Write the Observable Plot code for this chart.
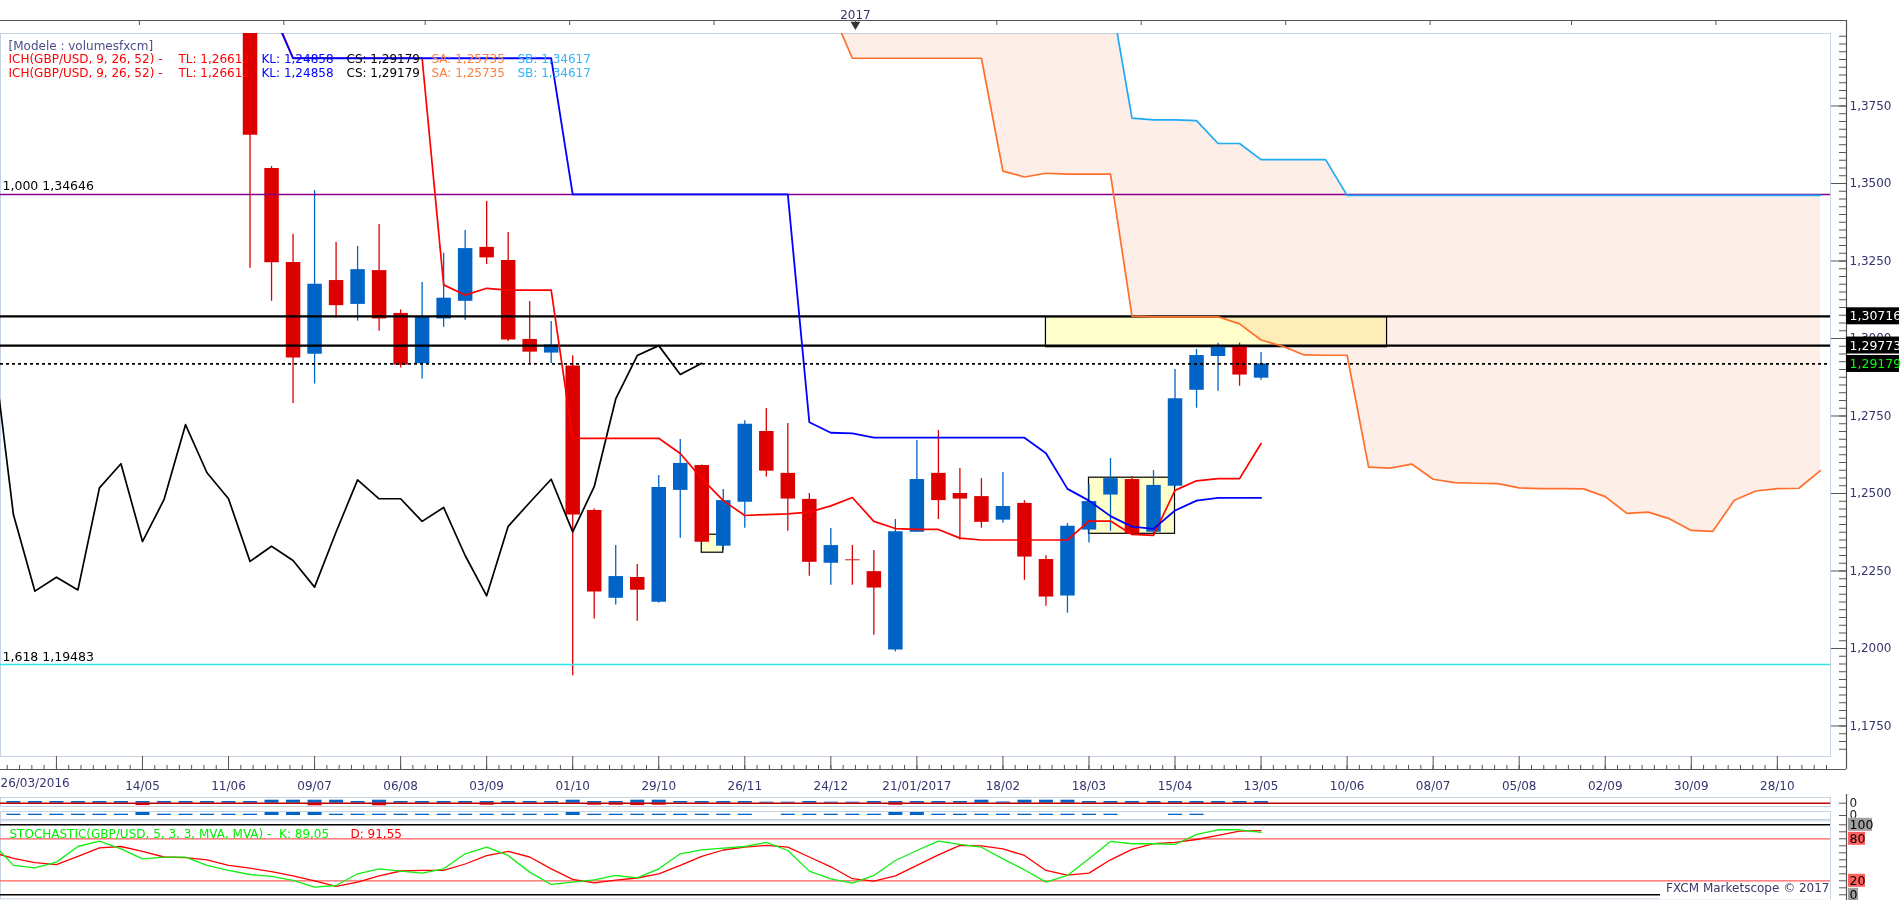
<!DOCTYPE html>
<html>
<head>
<meta charset="utf-8">
<script src="https://cdn.jsdelivr.net/npm/d3@7"></script>
<script src="https://cdn.jsdelivr.net/npm/@observablehq/plot@0.6"></script>
<style>
html, body { margin:0; padding:0; background:#fff; overflow:hidden; }
#wrap { position:relative; width:1903px; height:900px; overflow:hidden; background:#fff; }
#wrap > svg { position:absolute; left:0; }
</style>
</head>
<body>
<div id="wrap"></div>
<script>
// ---------------- DATA ----------------
const weeks = ["2016-03-26","2016-04-02","2016-04-09","2016-04-16","2016-04-23","2016-04-30","2016-05-07","2016-05-14","2016-05-21","2016-05-28",
"2016-06-04","2016-06-11","2016-06-18","2016-06-25","2016-07-02","2016-07-09","2016-07-16","2016-07-23","2016-07-30","2016-08-06",
"2016-08-13","2016-08-20","2016-08-27","2016-09-03","2016-09-10","2016-09-17","2016-09-24","2016-10-01","2016-10-08","2016-10-15",
"2016-10-22","2016-10-29","2016-11-05","2016-11-12","2016-11-19","2016-11-26","2016-12-03","2016-12-10","2016-12-17","2016-12-24",
"2016-12-31","2017-01-07","2017-01-14","2017-01-21","2017-01-28","2017-02-04","2017-02-11","2017-02-18","2017-02-25","2017-03-04",
"2017-03-11","2017-03-18","2017-03-25","2017-04-01","2017-04-08","2017-04-15","2017-04-22","2017-04-29","2017-05-06","2017-05-13",
"2017-05-20","2017-05-27","2017-06-03","2017-06-10","2017-06-17","2017-06-24","2017-07-01","2017-07-08","2017-07-15","2017-07-22",
"2017-07-29","2017-08-05","2017-08-12","2017-08-19","2017-08-26","2017-09-02","2017-09-09","2017-09-16","2017-09-23","2017-09-30",
"2017-10-07","2017-10-14","2017-10-21","2017-10-28","2017-11-04","2017-11-11"];

// weekly candles 18/06/2016 .. 13/05/2017
const open  = [1.4555,1.3548,1.3245,1.2949,1.3187,1.3110,1.3219,1.3081,1.2919,1.3063,1.3120,1.3294,1.3252,1.2997,1.2953,1.2911,1.2445,1.2162,1.2229,1.2149,1.2510,1.2590,1.2330,1.2472,1.2700,1.2565,1.2481,1.2275,1.2286,1.2248,1.1995,1.2375,1.2565,1.2500,1.2490,1.2414,1.2468,1.2287,1.2169,1.2382,1.2495,1.2545,1.2375,1.2523,1.2833,1.2942,1.2977,1.2872];
const high  = [1.5018,1.3555,1.3336,1.3477,1.3310,1.3297,1.3368,1.3092,1.3181,1.3275,1.3348,1.3442,1.3342,1.3119,1.3055,1.2944,1.2450,1.2332,1.2271,1.2558,1.2674,1.2592,1.2513,1.2735,1.2774,1.2726,1.2500,1.2387,1.2332,1.2316,1.2416,1.2671,1.2703,1.2581,1.2548,1.2568,1.2477,1.2299,1.2403,1.2529,1.2613,1.2555,1.2574,1.2900,1.2965,1.2985,1.2985,1.2955];
const low   = [1.3227,1.3120,1.2790,1.2853,1.3066,1.3056,1.3023,1.2905,1.2869,1.3036,1.3059,1.3239,1.2990,1.2919,1.2919,1.1912,1.2095,1.2140,1.2088,1.2146,1.2356,1.2343,1.2316,1.2388,1.2553,1.2378,1.2233,1.2204,1.2204,1.2043,1.1989,1.2375,1.2416,1.2349,1.2388,1.2404,1.2220,1.2136,1.2114,1.2340,1.2378,1.2365,1.2370,1.2520,1.2775,1.2830,1.2846,1.2865];
const close = [1.3656,1.3244,1.2937,1.3175,1.3106,1.3222,1.3063,1.2914,1.3071,1.3130,1.3290,1.3260,1.2995,1.2956,1.2979,1.2431,1.2182,1.2232,1.2188,1.2519,1.2597,1.2343,1.2477,1.2723,1.2572,1.2482,1.2278,1.2332,1.2283,1.2195,1.2377,1.2545,1.2477,1.2482,1.2407,1.2458,1.2295,1.2166,1.2394,1.2474,1.2548,1.2369,1.2526,1.2806,1.2945,1.2977,1.2882,1.29179];

// Ichimoku lines
const tenkan = [1.4120,1.4070,1.3904,1.3904,1.3904,1.3904,1.3904,1.3904,1.3904,1.3173,1.3140,1.3162,1.3156,1.3156,1.3156,1.2678,1.2678,1.2678,1.2678,1.2678,1.2629,1.2548,1.2477,1.2429,1.2432,1.2434,1.2440,1.2460,1.2487,1.2410,1.2387,1.2384,1.2384,1.2356,1.2350,1.2350,1.2350,1.2350,1.2350,1.2411,1.2411,1.2368,1.2365,1.2510,1.2541,1.2548,1.2548,1.26612];
const kijun  = [1.4250,1.4061,1.3904,1.3904,1.3904,1.3904,1.3904,1.3904,1.3904,1.3904,1.3904,1.3904,1.3904,1.3904,1.3904,1.3465,1.3465,1.3465,1.3465,1.3465,1.3465,1.3465,1.3465,1.3465,1.3465,1.3465,1.2730,1.2696,1.2694,1.2680,1.2680,1.2680,1.2680,1.2680,1.2680,1.2680,1.2680,1.2630,1.2515,1.2477,1.2427,1.2393,1.2386,1.2445,1.2477,1.2486,1.2486,1.24858];
const chikou = [1.3000,1.2432,1.2185,1.2230,1.2189,1.2518,1.2596,1.2345,1.2480,1.2722,1.2567,1.2483,1.2281,1.2330,1.2284,1.2198,1.2376,1.2544,1.2483,1.2483,1.2410,1.2455,1.2300,1.2170,1.2394,1.2471,1.2546,1.2376,1.2522,1.2805,1.2945,1.2977,1.2884,1.2920];
const senkouA = [1.4065,1.3904,1.3904,1.3904,1.3904,1.3904,1.3904,1.3904,1.3540,1.3521,1.3533,1.3530,1.3530,1.3530,1.3072,1.3070,1.3070,1.3070,1.3070,1.3047,1.2995,1.2975,1.2947,1.2946,1.2946,1.2585,1.2582,1.2595,1.2546,1.2535,1.2533,1.2532,1.2518,1.2516,1.2516,1.2515,1.2490,1.2436,1.2440,1.2418,1.2381,1.2378,1.2478,1.2508,1.2516,1.2517,1.25735];
const senkouB = [1.4300,1.4300,1.4300,1.4300,1.4300,1.4300,1.4300,1.4300,1.4300,1.4300,1.4300,1.4300,1.4300,1.4110,1.3711,1.3705,1.3705,1.3703,1.3629,1.3629,1.3577,1.3577,1.3577,1.3577,1.34617,1.34617,1.34617,1.34617,1.34617,1.34617,1.34617,1.34617,1.34617,1.34617,1.34617,1.34617,1.34617,1.34617,1.34617,1.34617,1.34617,1.34617,1.34617,1.34617,1.34617,1.34617,1.34617];

// Stochastic
const stochK = [75,42,38.6,46.7,69,76.7,65.7,51.4,53.8,53.8,41.9,34.8,29,26.2,20.5,11,13.3,30,37.1,33.8,31,37.1,58.6,68,56.2,32.4,14.8,18.1,21.4,27.6,24.3,37.1,58.6,64.3,66.7,69,74.8,63.3,33.8,22.9,16.7,27.6,49,63.3,76.7,71.9,68,51.4,35.7,18.1,27.6,51.4,76.2,72.9,72.9,71.9,86.2,92.9,92.9,89.05];
const stochD = [61,52,46,43,55,67,69,62,54,53,50,42,38,33,27,20,12,18,27,34,35,35,44,56,62,54,37,22,17,21,24,30,42,55,64,68,70.5,68,54,40,23,19.5,27,42,57,70.5,70,65.7,56.2,34.8,28,31,50,65,73,75,79,85,91,91.55];

// thin volume strips
const vol1Up = [1.7,1.7,1.7,1.7,1.7,1.7,1.7,1.7,1.7,1.7,1.7,1.7,3,3,3,3,1.7,3,1.7,1.7,1.7,1.7,1.7,1.7,1.7,1.7,3,1.7,1.7,3,3,1.7,1.7,1.7,1.7,1,1,1.7,1,1,1.7,1.7,1.7,1.7,1.7,3,1.2,3,3,3,1.7,1.7,1.7,1.7,1.7,1.7,1.7,1.7,1.7];
const vol1Dn = [0,0,0,0,0,0,2.4,0,0,0,0,0,0,0,2.6,0,0,2.6,0,0,0,0,2.0,0,0,0,0,2.0,2.0,2.4,2.0,0,0,0,0,0,0,0,0,0,0,2.0,0,0,0,0,0,0,0,0,0,0,0,0,0,0,0,0,0];
const vol2   = [1.3,1.3,1.3,1.3,1.3,1.3,3,1.3,1.3,1.3,1.3,1.3,3,3,3,1.3,1.3,1.3,1.3,1.3,1.3,1.3,1.3,1.3,1.3,1.3,3,1.3,1.3,1.3,1.3,1.3,1.3,1.3,1.3,0,1.3,1.3,1.3,1.3,1.3,3,3,1.3,1.3,1.3,1.3,1.3,1.3,1.3,1.3,1.3,0,0,1.3,1.3,0,0,0];

// levels and tags
const fiboValues = [1.34646, 1.19483];
const fiboLabels = ["1,000 1,34646", "1,618 1,19483"];
const fiboColors = ["#8b008b", "#2ee6e6"];
const blackLevels = [1.30716, 1.29773];
const dottedLevel = [1.29179];
const tagValues = [1.30716, 1.29773, 1.29179];
const tagLabels = ["1,30716", "1,29773", "1,29179"];
const tagColors = ["#ffffff", "#ffffff", "#00ff00"];

// highlight boxes
const boxX1 = ["2016-11-12", "2017-03-18", "2017-03-04"];
const boxX2 = ["2016-11-19", "2017-04-15", "2017-06-23"];
const boxLow = [1.2309, 1.2370, 1.2972];
const boxHigh = [1.2367, 1.2551, 1.3069];

// axis ticks
const xTickDates = ["2016-04-16","2016-05-14","2016-06-11","2016-07-09","2016-08-06","2016-09-03","2016-10-01","2016-10-29","2016-11-26","2016-12-24","2017-01-21","2017-02-18","2017-03-18","2017-04-15","2017-05-13","2017-06-10","2017-07-08","2017-08-05","2017-09-02","2017-09-30","2017-10-28"];
const xTickLabels = ["","14/05","11/06","09/07","06/08","03/09","01/10","29/10","26/11","24/12","21/01/2017","18/02","18/03","15/04","13/05","10/06","08/07","05/08","02/09","30/09","28/10"];
const firstLabel = "26/03/2016";
const topTickDates = ["2016-05-13","2016-06-29","2016-08-14","2016-09-30","2016-11-16","2017-01-01","2017-02-16","2017-04-04","2017-05-21","2017-07-07","2017-08-22","2017-10-08"];
const yearMark = {date: "2017-01-01", label: "2017"};
const yTicks = [1.175,1.2,1.225,1.25,1.275,1.3,1.325,1.35,1.375];

// ---------------- BUILD ----------------
const W = 1903, MR = 73;
const X0 = new Date("2016-03-28T19:12:00Z"), X1 = new Date("2017-11-14T07:12:00Z");
const Y0 = 1.165161, Y1 = 1.398387;
const day = s => new Date(s + "T00:00:00Z");
const BLUE = "#0063c6", RED = "#dc0000", FRAME = "#c6d3e1", AXIS = "#555555", LAB = "#35356e";
const FONT = "'DejaVu Sans', Verdana, sans-serif";

const candles = weeks.slice(12, 60).map((w, i) => ({date: day(w), open: open[i], high: high[i], low: low[i], close: close[i]}));
const candleColor = d => d.close >= d.open ? BLUE : RED;
const tkData = weeks.slice(12, 60).map((w, i) => ({date: day(w), t: tenkan[i], k: kijun[i]}));
const chData = weeks.slice(0, 34).map((w, i) => ({date: day(w), v: chikou[i]}));
const cloud = weeks.slice(39, 86).map((w, i) => ({date: day(w), sa: senkouA[i], sb: senkouB[i]}));
const stoch = weeks.slice(0, 60).map((w, i) => ({date: day(w), k: stochK[i], d: stochD[i]}));
const v1 = weeks.slice(1, 60).map((w, i) => ({date: day(w), up: vol1Up[i], dn: vol1Dn[i]}));
const v2 = weeks.slice(1, 60).map((w, i) => ({date: day(w), h: vol2[i]})).filter(d => d.h > 0);
const boxes = boxX1.map((x, i) => ({x1: day(x), x2: day(boxX2[i]), y1: boxLow[i], y2: boxHigh[i]}));
const fibo = fiboValues.map((p, i) => ({p, label: fiboLabels[i], color: fiboColors[i]}));
const tags = tagValues.map((p, i) => ({p, label: tagLabels[i], color: tagColors[i]}));
const xLabelMap = new Map(xTickDates.map((d, i) => [+day(d), xTickLabels[i]]));
const minorX = d3.range(-10, 160).map(i => new Date(+day("2016-03-19") + i * 4 * 864e5)).filter(d => d >= X0 && d <= X1);
const minorY = d3.range(467, 560).map(i => +(i * 0.0025).toFixed(4));
const fmtP = d => d.toFixed(4).replace(".", ",");

const style = {background: "transparent", overflow: "visible", fontFamily: FONT, fontSize: "12px", color: "#000"};
const xScale = {type: "utc", domain: [X0, X1], label: null};

const txt = (s, color, dx, dy) => Plot.text([s], {frameAnchor: "top-left", text: d => d, dx, dy, fill: color, textAnchor: "start", fontSize: 12, fontFamily: FONT});

const main = Plot.plot({
  width: W, height: 800, marginTop: 33, marginBottom: 44, marginLeft: 0, marginRight: MR,
  style,
  x: xScale,
  y: {domain: [Y0, Y1], label: null},
  marks: [
    Plot.areaY(cloud, {x: "date", y1: "sa", y2: "sb", fill: "#fdeee8", clip: true}),
    Plot.frame({stroke: FRAME}),
    Plot.rect(boxes, {x1: "x1", x2: "x2", y1: "y1", y2: "y2", fill: "#ffffcc", stroke: "#000", strokeWidth: 1.2, mixBlendMode: "multiply"}),
    Plot.ruleX(candles, {x: "date", y1: "low", y2: "high", stroke: candleColor, strokeWidth: 1.3, clip: true}),
    Plot.ruleX(candles, {x: "date", y1: "open", y2: "close", stroke: candleColor, strokeWidth: 14.5, clip: true}),
    Plot.ruleY(fibo, {y: "p", stroke: "color", strokeWidth: 1.6}),
    Plot.ruleY(blackLevels, {stroke: "#000", strokeWidth: 2.2}),
    Plot.ruleY(dottedLevel, {stroke: "#000", strokeWidth: 1.8, strokeDasharray: "3,3"}),
    Plot.line(chData, {x: "date", y: "v", stroke: "#000", strokeWidth: 1.7, clip: true}),
    Plot.line(cloud, {x: "date", y: "sa", stroke: "#ff6f2c", strokeWidth: 1.7, clip: true}),
    Plot.line(cloud, {x: "date", y: "sb", stroke: "#1eaaf5", strokeWidth: 1.7, clip: true}),
    Plot.line(tkData, {x: "date", y: "t", stroke: "#ff0000", strokeWidth: 1.7, clip: true}),
    Plot.line(tkData, {x: "date", y: "k", stroke: "#0000ff", strokeWidth: 1.8, clip: true}),
    Plot.text(fibo, {y: "p", text: "label", frameAnchor: "left", dx: 2, dy: -8, textAnchor: "start", fill: "#000", fontSize: 12.5}),
    txt("[Modele : volumesfxcm]", "#4d4d8a", 8, 8),
    ...[21, 35].flatMap(dy => [
      txt("ICH(GBP/USD, 9, 26, 52) -", "#ff0000", 8, dy),
      txt("TL: 1,26612", "#ff0000", 178, dy),
      txt("KL: 1,24858", "#0000ff", 261, dy),
      txt("CS: 1,29179", "#000000", 346, dy),
      txt("SA: 1,25735", "#ff7f3f", 431, dy),
      txt("SB: 1,34617", "#33b5ff", 517, dy)
    ]),
    // top axis
    Plot.ruleY([Y1], {dy: -13, insetRight: -16, stroke: AXIS, strokeWidth: 1.2}),
    Plot.axisX({anchor: "top", ticks: topTickDates.map(day), tickSize: 4, dy: -9, tickFormat: () => "", stroke: AXIS, label: null}),
    Plot.dot([yearMark], {x: d => day(d.date), frameAnchor: "top", dy: -9, symbol: "triangle", r: 3.6, fill: "#333", rotate: 180}),
    Plot.text([yearMark], {x: d => day(d.date), text: "label", frameAnchor: "top", dy: -23, fill: LAB, fontSize: 12}),
    // bottom axis
    Plot.ruleY([Y0], {dy: 13, insetRight: -16, stroke: AXIS, strokeWidth: 1.2}),
    Plot.axisX({anchor: "bottom", ticks: minorX, tickSize: 4, dy: 9, tickFormat: () => "", stroke: AXIS, label: null}),
    Plot.axisX({anchor: "bottom", ticks: xTickDates.map(day), tickSize: 13, tickPadding: 12, tickFormat: d => xLabelMap.get(+d) ?? "", stroke: AXIS, fill: LAB, fontSize: 12, label: null}),
    Plot.text([firstLabel], {x: () => X0, text: d => d, frameAnchor: "bottom", dy: 30, textAnchor: "start", fill: LAB, fontSize: 12}),
    // right axis
    Plot.ruleX([X1], {dx: 16, insetTop: -13, insetBottom: -13, stroke: AXIS, strokeWidth: 1.2}),
    Plot.axisY({anchor: "right", ticks: minorY, tickSize: 7, dx: 8, tickFormat: () => "", stroke: AXIS, label: null}),
    Plot.axisY({anchor: "right", ticks: yTicks, tickSize: 15, tickPadding: 4, tickFormat: fmtP, stroke: AXIS, fill: LAB, fontSize: 12, label: null}),
    // price tags
    Plot.rect(tags, {x1: () => X1, x2: () => X1, y1: "p", y2: "p", insetLeft: 16, insetRight: -69, insetTop: -8.5, insetBottom: -8.5, fill: "#000"}),
    Plot.text(tags, {y: "p", text: "label", frameAnchor: "right", dx: 19, textAnchor: "start", fill: "color", fontSize: 12.5})
  ]
});

const strip1 = Plot.plot({
  width: W, height: 9, marginTop: 0, marginBottom: 0, marginLeft: 0, marginRight: MR,
  style, x: {...xScale, axis: null}, y: {domain: [-3.3, 5.7], axis: null, label: null},
  marks: [
    Plot.frame({stroke: FRAME}),
    Plot.ruleX(v1, {x: "date", y1: 0, y2: "up", stroke: BLUE, strokeWidth: 14, clip: true}),
    Plot.ruleX(v1.filter(d => d.dn > 0), {x: "date", y1: 0, y2: d => -d.dn, stroke: RED, strokeWidth: 14, clip: true}),
    Plot.ruleY([0], {stroke: "#c00000", strokeWidth: 1.5}),
    Plot.ruleX([X1], {dx: 16, insetTop: -3, insetBottom: -5, stroke: AXIS, strokeWidth: 1.2}),
    Plot.axisY({anchor: "right", ticks: [0], tickSize: 8, dx: 8, tickPadding: 3, tickFormat: d => String(d), stroke: AXIS, fill: "#222", fontSize: 12, label: null})
  ]
});

const strip2 = Plot.plot({
  width: W, height: 8, marginTop: 0, marginBottom: 0, marginLeft: 0, marginRight: MR,
  style, x: {...xScale, axis: null}, y: {domain: [-4, 4], axis: null, label: null},
  marks: [
    Plot.frame({stroke: FRAME}),
    Plot.ruleX(v2, {x: "date", y1: 0, y2: "h", stroke: BLUE, strokeWidth: 14, clip: true}),
    Plot.ruleX([X1], {dx: 16, insetTop: -1, insetBottom: -1, stroke: AXIS, strokeWidth: 1.2}),
    Plot.axisY({anchor: "right", ticks: [0], tickSize: 8, dx: 8, tickPadding: 3, tickFormat: d => String(d), stroke: AXIS, fill: "#222", fontSize: 12, label: null})
  ]
});

const stochLabels = [
  {v: 100, t: "100", fill: "#a0a0a0", w: 24},
  {v: 80, t: "80", fill: "#ff5f5f", w: 17},
  {v: 20, t: "20", fill: "#ff5f5f", w: 17},
  {v: 0, t: "0", fill: "#a0a0a0", w: 10}
];

const stochPlot = Plot.plot({
  width: W, height: 80, marginTop: 4.3, marginBottom: 5.7, marginLeft: 0, marginRight: MR,
  style, x: {...xScale, axis: null}, y: {domain: [0, 100], axis: null, label: null},
  marks: [
    Plot.frame({stroke: FRAME, insetTop: -4, insetBottom: -4}),
    Plot.ruleY([100, 0], {stroke: "#000", strokeWidth: 1.6}),
    Plot.ruleY([80, 20], {stroke: "#ff5c5c", strokeWidth: 1.3}),
    Plot.line(stoch, {x: "date", y: "d", stroke: "#ff0000", strokeWidth: 1.3, clip: true}),
    Plot.line(stoch, {x: "date", y: "k", stroke: "#11ee11", strokeWidth: 1.3, clip: true}),
    Plot.text(["STOCHASTIC(GBP/USD, 5, 3, 3, MVA, MVA) -  K: 89,05"], {frameAnchor: "top-left", text: d => d, dx: 9, dy: 4.7, textAnchor: "start", fill: "#00ee00", fontSize: 12}),
    Plot.text(["D: 91,55"], {frameAnchor: "top-left", text: d => d, dx: 350, dy: 4.7, textAnchor: "start", fill: "#ff0000", fontSize: 12}),
    Plot.rect([0], {x1: () => X1, x2: () => X1, y1: () => 0, y2: () => 0, insetLeft: -170, insetRight: 0, insetTop: -9, insetBottom: -5, fill: "#fff"}),
    Plot.text(["FXCM Marketscope © 2017"], {frameAnchor: "bottom-right", text: d => d, dx: -1, dy: -2.6, textAnchor: "end", fill: "#3a3a6a", fontSize: 12}),
    Plot.ruleX([X1], {dx: 16, insetTop: -5, insetBottom: -6, stroke: AXIS, strokeWidth: 1.2}),
    Plot.axisY({anchor: "right", ticks: d3.range(0, 101, 10), tickSize: 8, dx: 8, tickFormat: () => "", stroke: AXIS, label: null}),
    ...stochLabels.map(l => Plot.rect([l], {x1: () => X1, x2: () => X1, y1: "v", y2: "v", insetLeft: 18, insetRight: -(18 + l.w), insetTop: -6.5, insetBottom: -6.5, fill: l.fill})),
    Plot.text(stochLabels, {y: "v", text: "t", frameAnchor: "right", dx: 19, textAnchor: "start", fill: "#000", fontSize: 12.5})
  ]
});

const wrap = document.getElementById("wrap");
[[main, 0], [strip1, 797], [strip2, 811], [stochPlot, 820]].forEach(([svg, top]) => {
  svg.style.top = top + "px";
  wrap.appendChild(svg);
});
</script>
</body>
</html>
